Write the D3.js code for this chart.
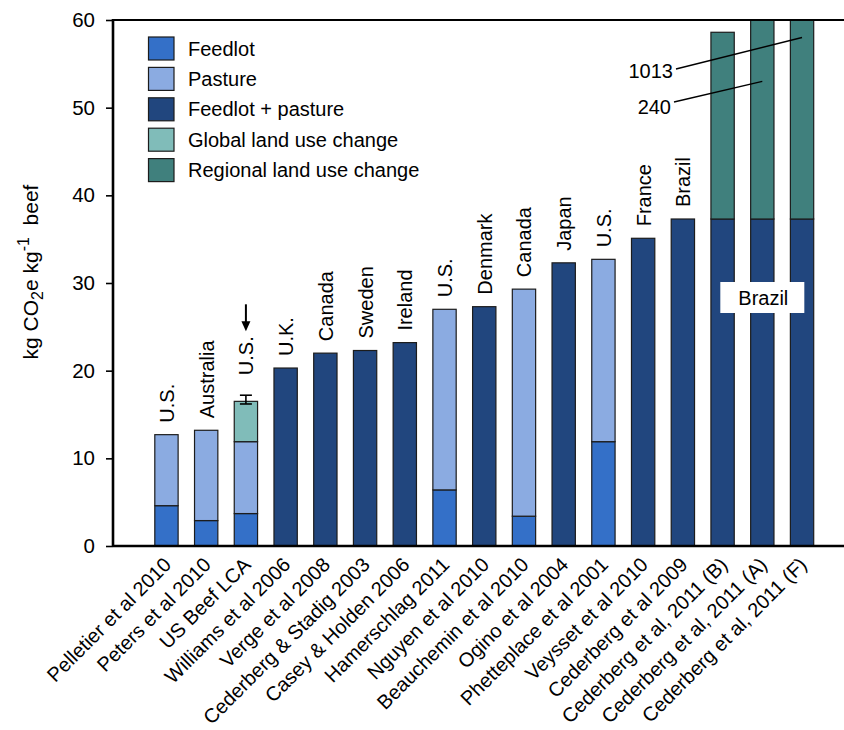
<!DOCTYPE html>
<html>
<head>
<meta charset="utf-8">
<script src="https://cdn.jsdelivr.net/npm/d3@7"></script>
<style>
  body { margin: 0; background: #fff; }
  text { font-family: "Liberation Sans", Arial, Helvetica, sans-serif; fill: #000; }
</style>
</head>
<body>
<svg id="chart" width="844" height="730"></svg>
<script>
// Carbon footprint of beef by study (kg CO2e per kg beef)
const studies = [
  "Pelletier et al 2010", "Peters et al 2010", "US Beef LCA", "Williams et al 2006",
  "Verge et al 2008", "Cederberg & Stadig 2003", "Casey & Holden 2006", "Hamerschlag 2011",
  "Nguyen et al 2010", "Beauchemin et al 2010", "Ogino et al 2004", "Phetteplace et al 2001",
  "Veysset et al 2010", "Cederberg et al 2009", "Cederberg et al, 2011 (B)",
  "Cederberg et al, 2011 (A)", "Cederberg et al, 2011 (F)"
];
const countries = [
  "U.S.", "Australia", "U.S.", "U.K.", "Canada", "Sweden", "Ireland", "U.S.",
  "Denmark", "Canada", "Japan", "U.S.", "France", "Brazil", "", "", ""
];
const feedlot        = [4.6, 2.9, 3.7, 0, 0, 0, 0, 6.4, 0, 3.4, 0, 11.9, 0, 0, 0, 0, 0];
const pasture        = [8.1, 10.3, 8.2, 0, 0, 0, 0, 20.6, 0, 25.9, 0, 20.8, 0, 0, 0, 0, 0];
const feedlotPasture = [0, 0, 0, 20.3, 22.0, 22.3, 23.2, 0, 27.3, 0, 32.3, 0, 35.1, 37.3, 37.3, 37.3, 37.3];
const globalLUC      = [0, 0, 4.6, 0, 0, 0, 0, 0, 0, 0, 0, 0, 0, 0, 0, 0, 0];
const regionalLUC    = [0, 0, 0, 0, 0, 0, 0, 0, 0, 0, 0, 0, 0, 0, 21.3, 202.7, 975.7];

const seriesNames  = ["Feedlot", "Pasture", "Feedlot + pasture", "Global land use change", "Regional land use change"];
const seriesColors = ["#3470c8", "#8babe1", "#21467e", "#80bcb9", "#40807d"];
const seriesValues = [feedlot, pasture, feedlotPasture, globalLUC, regionalLUC];

const errorStudies = ["US Beef LCA"];
const errorLow     = [16.2];
const errorHigh    = [17.2];

const markedStudy     = "US Beef LCA";                       // arrow above its label
const calloutStudies  = ["Cederberg et al, 2011 (A)", "Cederberg et al, 2011 (F)"];
const regionNote      = "Brazil";
const yTicks          = [0, 10, 20, 30, 40, 50, 60];

const svg = d3.select("#chart");
const plotLeft = 113, plotRight = 844, plotTop = 20, plotBottom = 546;

const x = d3.scaleBand().domain(studies).range([146.6, 821.9]).paddingInner(0.413).paddingOuter(0.2065);
const y = d3.scaleLinear().domain([0, 60]).range([plotBottom, plotTop]);

const rows = studies.map((s, i) => {
  const r = { study: s, country: countries[i] };
  seriesNames.forEach((k, j) => r[k] = seriesValues[j][i]);
  r.total = d3.sum(seriesValues, v => v[i]);
  return r;
});
const stacked = d3.stack().keys(seriesNames)(rows);
const color = d3.scaleOrdinal().domain(seriesNames).range(seriesColors);

svg.append("defs").append("clipPath").attr("id", "plot-clip")
  .append("rect").attr("x", plotLeft).attr("y", plotTop)
  .attr("width", plotRight - plotLeft).attr("height", plotBottom - plotTop);

// stacked bars
const barsG = svg.append("g").attr("clip-path", "url(#plot-clip)");
barsG.selectAll("g.series").data(stacked).join("g")
  .attr("class", "series")
  .attr("fill", d => color(d.key))
  .selectAll("rect")
  .data(d => d.filter(s => s[1] - s[0] > 0))
  .join("rect")
  .attr("x", d => x(d.data.study))
  .attr("width", x.bandwidth())
  .attr("y", d => y(d[1]))
  .attr("height", d => y(d[0]) - y(d[1]))
  .attr("stroke", "#1c1c1c")
  .attr("stroke-width", 1.2);

// error bars
errorStudies.forEach((s, i) => {
  const cx = x(s) + x.bandwidth() / 2;
  const g = svg.append("g").attr("stroke", "#000").attr("stroke-width", 1.6);
  g.append("line").attr("x1", cx).attr("x2", cx).attr("y1", y(errorHigh[i])).attr("y2", y(errorLow[i]));
  [errorLow[i], errorHigh[i]].forEach(v =>
    g.append("line").attr("x1", cx - 6).attr("x2", cx + 6).attr("y1", y(v)).attr("y2", y(v)));
});

// country labels above the bars
const labelTop = r => {
  const ei = errorStudies.indexOf(r.study);
  return ei >= 0 ? y(errorHigh[ei]) - 20 : y(Math.min(r.total, 60)) - 12;
};
const countryLabels = svg.append("g").selectAll("text")
  .data(rows.filter(r => r.country))
  .join("text")
  .attr("transform", r => `translate(${x(r.study) + x.bandwidth() / 2 + 7.5},${labelTop(r)}) rotate(-90)`)
  .attr("font-size", 20)
  .text(r => r.country);

// arrow marking one study
{
  const node = countryLabels.filter(r => r.study === markedStudy).node();
  const r = rows.find(d => d.study === markedStudy);
  const len = node.getComputedTextLength();
  const cx = x(markedStudy) + x.bandwidth() / 2;
  const tip = labelTop(r) - len - 5;
  svg.append("line").attr("x1", cx).attr("x2", cx).attr("y1", tip - 27).attr("y2", tip - 8)
    .attr("stroke", "#000").attr("stroke-width", 2);
  svg.append("path")
    .attr("d", `M${cx - 4.5},${tip - 10} L${cx + 4.5},${tip - 10} L${cx},${tip} Z`)
    .attr("fill", "#000");
}

// callouts for bars that run past the top of the axis
const calloutAnchors = [{ v: 53, lx: 671, ly: 114, ey: 102 }, { v: 58, lx: 673, ly: 78, ey: 69 }];
calloutStudies.forEach((s, i) => {
  const r = rows.find(d => d.study === s);
  const a = calloutAnchors[i];
  svg.append("line")
    .attr("x1", a.lx + 3).attr("y1", a.ey)
    .attr("x2", x(s) + x.bandwidth() / 2).attr("y2", y(a.v))
    .attr("stroke", "#000").attr("stroke-width", 1.4);
  svg.append("text").attr("x", a.lx).attr("y", a.ly).attr("text-anchor", "end")
    .attr("font-size", 20).text(d3.format("d")(r.total));
});

// region note across the last three bars
{
  const cx = x(calloutStudies[0]) + x.bandwidth() / 2;
  svg.append("rect").attr("x", cx - 42).attr("y", 282).attr("width", 84).attr("height", 31).attr("fill", "#fff");
  svg.append("text").attr("x", cx + 1).attr("y", 305).attr("text-anchor", "middle")
    .attr("font-size", 20).text(regionNote);
}

// axes
const yAxis = svg.append("g").attr("transform", `translate(${plotLeft},0)`)
  .call(d3.axisLeft(y).tickValues(yTicks).tickSize(7).tickSizeOuter(0).tickPadding(11));
yAxis.select(".domain").remove();
yAxis.selectAll(".tick line").attr("stroke", "#000").attr("stroke-width", 1.6);
yAxis.selectAll(".tick text").attr("font-size", 20.5).attr("font-family", null).attr("fill", "#000");

svg.append("line").attr("x1", plotLeft).attr("x2", plotLeft).attr("y1", plotTop - 1).attr("y2", plotBottom + 1)
  .attr("stroke", "#000").attr("stroke-width", 2.6);
svg.append("line").attr("x1", plotLeft).attr("x2", plotRight).attr("y1", plotBottom).attr("y2", plotBottom)
  .attr("stroke", "#000").attr("stroke-width", 2.6);
svg.append("line").attr("x1", plotLeft).attr("x2", plotRight).attr("y1", plotTop).attr("y2", plotTop)
  .attr("stroke", "#000").attr("stroke-width", 2.2);

// study labels
svg.append("g").selectAll("text").data(studies).join("text")
  .attr("transform", s => `translate(${x(s) + x.bandwidth() / 2 + 6},${plotBottom + 20}) rotate(-45)`)
  .attr("text-anchor", "end")
  .attr("font-size", 20)
  .text(s => s);

// y axis title
{
  const t = svg.append("text")
    .attr("transform", "translate(38,272) rotate(-90)")
    .attr("text-anchor", "middle")
    .attr("font-size", 21);
  t.append("tspan").text("kg CO");
  t.append("tspan").attr("font-size", 16).attr("dy", 5).text("2");
  t.append("tspan").attr("dy", -5).text("e kg");
  t.append("tspan").attr("font-size", 16).attr("dy", -9).text("-1");
  t.append("tspan").attr("dy", 9).text("\u00a0 beef");
}

// legend
const legend = svg.append("g").selectAll("g").data(seriesNames).join("g")
  .attr("transform", (d, i) => `translate(148.5,${37 + i * 30.4})`);
legend.append("rect").attr("width", 25.5).attr("height", 23)
  .attr("fill", d => color(d)).attr("stroke", "#1c1c1c").attr("stroke-width", 1.2);
legend.append("text").attr("x", 39.5).attr("y", 18.5).attr("font-size", 20).text(d => d);
</script>
</body>
</html>
